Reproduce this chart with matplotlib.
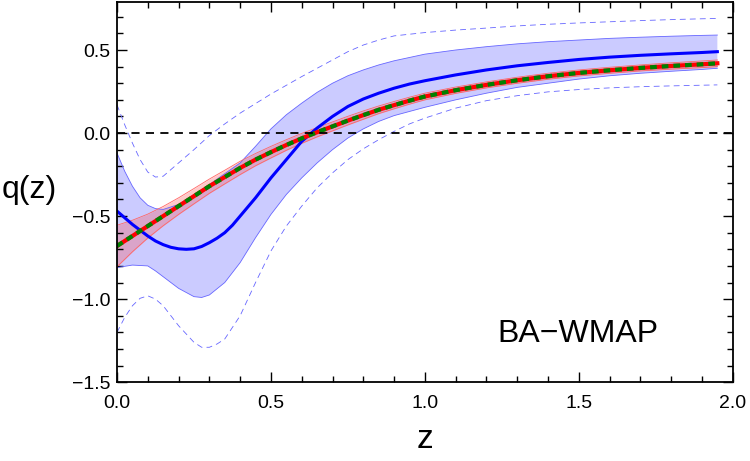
import matplotlib
matplotlib.use('Agg')
import matplotlib.pyplot as plt
import numpy as np
from matplotlib.ticker import MultipleLocator

plt.rcParams['font.family'] = ['Liberation Sans', 'DejaVu Sans']

# reconstruction (blue): best fit
z_blue = [0, 0.025, 0.05, 0.075, 0.1, 0.125, 0.15, 0.175, 0.2, 0.225, 0.25, 0.275, 0.3, 0.325, 0.35, 0.375, 0.4,
          0.45, 0.5, 0.55, 0.6, 0.65, 0.7, 0.75, 0.8, 0.85, 0.9, 0.95, 1.0, 1.1, 1.2, 1.3, 1.4, 1.5, 1.6, 1.7, 1.8, 1.9, 1.95]
q_blue = [-0.47, -0.51, -0.55, -0.585, -0.62, -0.65, -0.672, -0.688, -0.697, -0.70, -0.697, -0.683, -0.66, -0.633, -0.60, -0.555, -0.50,
          -0.39, -0.27, -0.16, -0.05, 0.03, 0.10, 0.16, 0.205, 0.24, 0.27, 0.295, 0.315, 0.35, 0.38, 0.405, 0.425, 0.443, 0.457, 0.468, 0.477, 0.485, 0.49]

# 1 sigma band
z_up = [0, 0.025, 0.05, 0.075, 0.1, 0.125, 0.15, 0.2, 0.25, 0.3, 0.35, 0.4, 0.45, 0.5, 0.55, 0.6, 0.65, 0.7, 0.75, 0.8,
        0.85, 0.9, 0.95, 1.0, 1.1, 1.2, 1.3, 1.4, 1.5, 1.6, 1.7, 1.8, 1.9, 1.95]
q_up = [-0.12, -0.23, -0.32, -0.39, -0.435, -0.455, -0.46, -0.43, -0.37, -0.31, -0.245, -0.18, -0.08, 0.025, 0.11, 0.18, 0.245, 0.30, 0.345, 0.38,
        0.41, 0.435, 0.455, 0.475, 0.50, 0.52, 0.537, 0.55, 0.56, 0.57, 0.577, 0.583, 0.588, 0.59]
z_lo = [0, 0.05, 0.1, 0.125, 0.15, 0.2, 0.25, 0.275, 0.3, 0.35, 0.4, 0.45, 0.5, 0.55, 0.6, 0.65, 0.7, 0.75, 0.8,
        0.85, 0.9, 0.95, 1.0, 1.1, 1.2, 1.3, 1.4, 1.5, 1.6, 1.7, 1.8, 1.9, 1.95]
q_lo = [-0.81, -0.795, -0.80, -0.83, -0.865, -0.935, -0.985, -0.99, -0.975, -0.90, -0.78, -0.63, -0.49, -0.37, -0.27, -0.18, -0.10, -0.03, 0.025,
        0.07, 0.105, 0.13, 0.155, 0.20, 0.24, 0.275, 0.30, 0.325, 0.345, 0.36, 0.372, 0.383, 0.39]

# 2 sigma (dashed)
z_out_up = [0, 0.025, 0.05, 0.075, 0.1, 0.125, 0.15, 0.175, 0.2, 0.25, 0.3, 0.35, 0.4, 0.5, 0.6, 0.7, 0.75, 0.8, 0.85, 0.9,
            1.0, 1.1, 1.2, 1.3, 1.4, 1.5, 1.6, 1.7, 1.8, 1.9, 1.95]
q_out_up = [0.17, 0.05, -0.06, -0.16, -0.235, -0.265, -0.26, -0.22, -0.18, -0.10, -0.015, 0.055, 0.12, 0.235, 0.34, 0.44, 0.49, 0.53, 0.56, 0.585,
            0.605, 0.62, 0.632, 0.645, 0.655, 0.663, 0.67, 0.677, 0.683, 0.688, 0.69]
z_out_lo = [0, 0.025, 0.05, 0.075, 0.1, 0.125, 0.15, 0.2, 0.25, 0.275, 0.3, 0.325, 0.35, 0.4, 0.45, 0.5, 0.55, 0.6, 0.65, 0.7, 0.75, 0.8,
            0.85, 0.9, 0.95, 1.0, 1.1, 1.2, 1.3, 1.4, 1.5, 1.6, 1.7, 1.8, 1.9, 1.95]
q_out_lo = [-1.2, -1.11, -1.04, -0.995, -0.98, -1.0, -1.04, -1.16, -1.26, -1.29, -1.29, -1.27, -1.24, -1.10, -0.90, -0.71, -0.56, -0.44, -0.33, -0.24, -0.16, -0.095,
            -0.04, 0.01, 0.055, 0.09, 0.15, 0.195, 0.225, 0.248, 0.262, 0.272, 0.279, 0.284, 0.288, 0.29]

# model (red) with its band
z_red = [0, 0.05, 0.1, 0.15, 0.2, 0.25, 0.3, 0.35, 0.4, 0.45, 0.5, 0.55, 0.6, 0.65, 0.7, 0.75, 0.8, 0.85, 0.9, 0.95,
         1.0, 1.1, 1.2, 1.3, 1.4, 1.5, 1.6, 1.7, 1.8, 1.9, 1.95]
q_red = [-0.68, -0.62, -0.56, -0.50, -0.44, -0.38, -0.32, -0.265, -0.21, -0.16, -0.115, -0.072, -0.032, 0.005, 0.04, 0.075, 0.108, 0.14, 0.168, 0.195,
         0.22, 0.258, 0.29, 0.318, 0.342, 0.362, 0.378, 0.392, 0.404, 0.414, 0.42]
q_red_err = [0.125, 0.095, 0.072, 0.058, 0.05, 0.046, 0.043, 0.041, 0.04, 0.037, 0.035, 0.032, 0.03, 0.028, 0.027, 0.026, 0.025, 0.023, 0.022, 0.021,
             0.02, 0.019, 0.018, 0.018, 0.018, 0.018, 0.018, 0.018, 0.019, 0.02, 0.02]

q_red = np.array(q_red)
q_red_err = np.array(q_red_err)

fig = plt.figure(figsize=(7.5, 4.61), dpi=100)
ax = fig.add_axes([0.156, 0.171, 0.821, 0.825])

edge_blue = (0.4, 0.4, 1.0)
ax.fill(np.concatenate([z_up, z_lo[::-1]]), np.concatenate([q_up, q_lo[::-1]]),
        color=(0.2, 0.2, 1.0), alpha=0.25, lw=0)
ax.plot(z_up, q_up, color=edge_blue, lw=0.6)
ax.plot(z_lo, q_lo, color=edge_blue, lw=0.6)
ax.plot(z_out_up, q_out_up, color=edge_blue, lw=0.6, dashes=(7, 5))
ax.plot(z_out_lo, q_out_lo, color=edge_blue, lw=0.6, dashes=(7, 5))

ax.fill_between(z_red, q_red - q_red_err, q_red + q_red_err, color=(1.0, 0.3, 0.3), alpha=0.3, lw=0)
ax.plot(z_red, q_red + q_red_err, color=(1.0, 0.4, 0.4), lw=0.6)
ax.plot(z_red, q_red - q_red_err, color=(1.0, 0.4, 0.4), lw=0.6)

ax.plot(z_blue, q_blue, color='#0000ff', lw=2.2)
ax.plot(z_red, q_red, color='#ff0000', lw=3.0)
ax.plot(z_red, q_red, color='#008000', lw=3.0, dashes=(1.6, 1.2))

ax.axhline(0, color='black', lw=1.3, dashes=(4.5, 3.5))

ax.text(1.237, -1.258, 'BA\u2212WMAP', fontsize=23, ha='left', va='baseline')

ax.set_xlim(0, 2.0)
ax.set_ylim(-1.5, 0.79)
ax.xaxis.set_major_locator(MultipleLocator(0.5))
ax.xaxis.set_minor_locator(MultipleLocator(0.1))
ax.yaxis.set_major_locator(MultipleLocator(0.5))
ax.yaxis.set_minor_locator(MultipleLocator(0.1))
fmt = plt.FuncFormatter(lambda v, p: ('%.1f' % v).replace('-', '\u2212'))
ax.xaxis.set_major_formatter(fmt)
ax.yaxis.set_major_formatter(fmt)
ax.tick_params(which='both', direction='in', top=True, right=True, labelsize=14, width=1.0)
ax.tick_params(which='major', length=7)
ax.tick_params(which='minor', length=4)
ax.tick_params(axis='x', pad=9)
ax.tick_params(axis='y', pad=5)
for s in ax.spines.values():
    s.set_linewidth(1.3)

ax.set_xlabel('z', fontsize=24, labelpad=9)
ax.set_ylabel('q(z)', fontsize=23, rotation=0, va='center', ha='center')
ax.yaxis.set_label_coords(-0.143, 0.505)

fig.savefig('out.png', dpi=100)
